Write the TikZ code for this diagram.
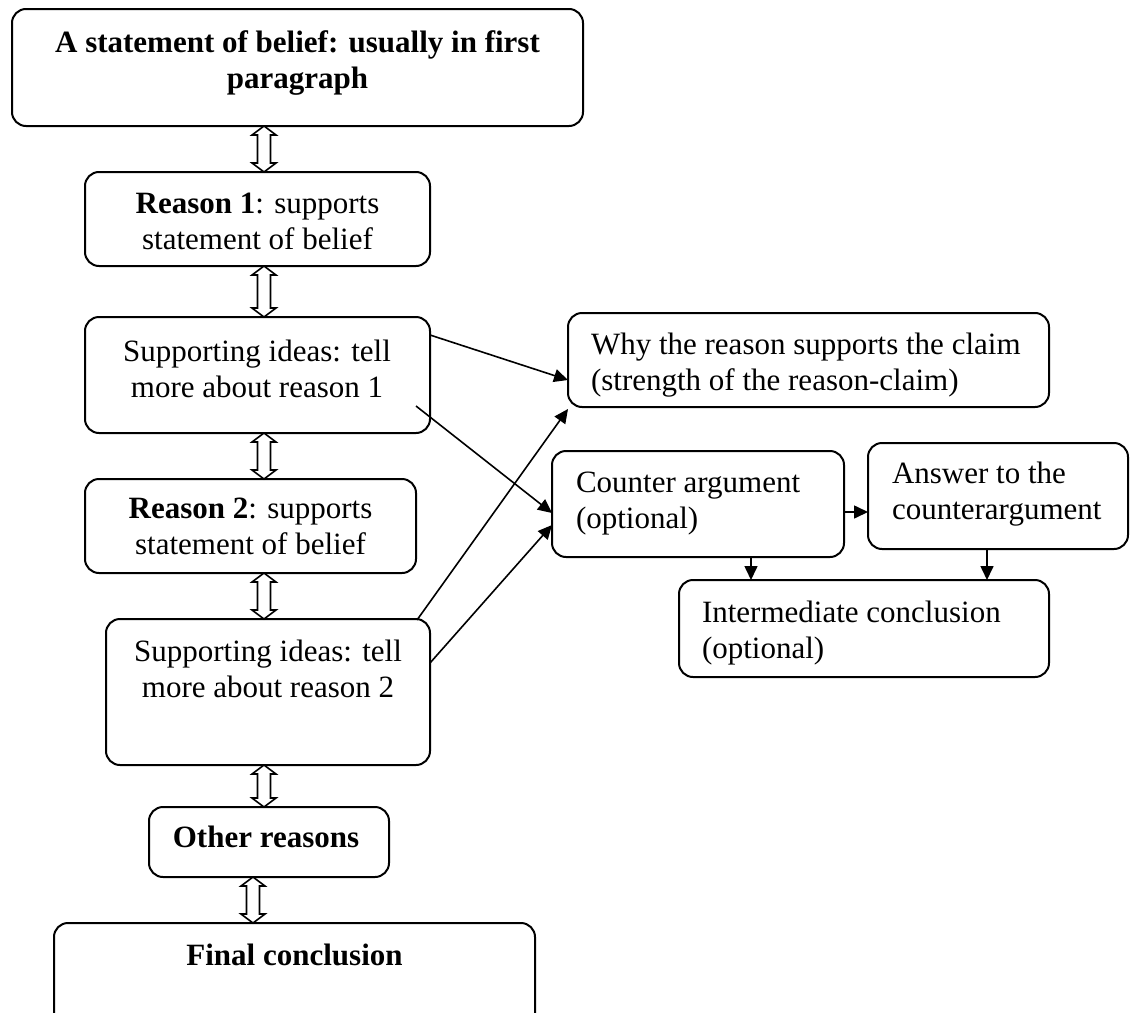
\documentclass[tikz,border=0pt]{standalone}
\usepackage{fontspec}
\setmainfont{Liberation Serif}
\usetikzlibrary{calc,arrows.meta}
\tikzset{
  box/.style={draw, line width=1pt, rounded corners=7pt, inner sep=0pt, outer sep=0pt},
  txt/.style={inner sep=0pt, outer sep=0pt, font=\fontsize{15.5}{18}\selectfont},
  link/.style={line width=0.8pt, -{Triangle[length=7pt,width=6.5pt]}},
  hollow/.style={draw, line width=0.8pt, fill=white, line join=miter}
}
\newcommand\dblarr[3]{%
  \draw[hollow] let \p1=(#2.south), \p2=(#3.north), \p3=(#1,0) in
    (\x3,\y1) -- (\x3+6pt,\y1-4.5pt) -- (\x3+3.25pt,\y1-4.5pt) -- (\x3+3.25pt,\y2+4.5pt)
    -- (\x3+6pt,\y2+4.5pt) -- (\x3,\y2) -- (\x3-6pt,\y2+4.5pt) -- (\x3-3.25pt,\y2+4.5pt)
    -- (\x3-3.25pt,\y1-4.5pt) -- (\x3-6pt,\y1-4.5pt) -- cycle;}
\begin{document}
\begin{tikzpicture}[x=0.5pt, y=-0.5pt]
\useasboundingbox (0,0) rectangle (1135,1012);
\clip (0,0) rectangle (1135,1012);
% boxes
\node[box, minimum width=285.5pt, minimum height=58.5pt] (top) at (297.5,67.5) {};
\node[box, minimum width=172.5pt, minimum height=47pt] (r1) at (257.5,219) {};
\node[box, minimum width=172.5pt, minimum height=58pt] (s1) at (257.5,375) {};
\node[box, minimum width=165.5pt, minimum height=47pt] (r2) at (250.5,526) {};
\node[box, minimum width=162pt, minimum height=73pt] (s2) at (268,692) {};
\node[box, minimum width=120pt, minimum height=35pt] (oth) at (269,842) {};
\node[box, minimum width=240.5pt, minimum height=58.5pt] (fin) at (294.5,981.5) {};
\node[box, minimum width=240.5pt, minimum height=47pt] (why) at (808.5,360) {};
\node[box, minimum width=146pt, minimum height=53pt] (ctr) at (698,504) {};
\node[box, minimum width=130pt, minimum height=53pt] (ans) at (998,496) {};
\node[box, minimum width=185pt, minimum height=48.5pt] (int) at (864,628.5) {};
% texts (base anchor = baseline of the last line)
\node[txt, anchor=base, align=center, font=\fontsize{15.5}{18}\selectfont\bfseries] (toptxt) at (297.5,88) {A statement of belief: usually in first\\paragraph};
\node[txt, anchor=base, align=center] (r1txt) at (257.5,249) {\textbf{Reason 1}: supports\\statement of belief};
\node[txt, anchor=base, align=center] (s1txt) at (257,397) {Supporting ideas: tell\\more about reason 1};
\node[txt, anchor=base, align=center] (r2txt) at (250.5,554) {\textbf{Reason 2}: supports\\statement of belief};
\node[txt, anchor=base, align=center] (s2txt) at (268,697) {Supporting ideas: tell\\more about reason 2};
\node[txt, anchor=base, font=\fontsize{15.5}{18}\selectfont\bfseries] (othtxt) at (266,847) {Other reasons};
\node[txt, anchor=base, font=\fontsize{15.5}{18}\selectfont\bfseries] (fintxt) at (294.5,965) {Final conclusion};
\node[txt, anchor=base west, align=left] (whytxt) at (591,390) {Why the reason supports the claim\\(strength of the reason-claim)};
\node[txt, anchor=base west, align=left] (ctrtxt) at (576,528) {Counter argument\\(optional)};
\node[txt, anchor=base west, align=left] (anstxt) at (892,519) {Answer to the\\counterargument};
\node[txt, anchor=base west, align=left] (inttxt) at (702,658) {Intermediate conclusion\\(optional)};
% hollow double arrows
\dblarr{264}{top}{r1}
\dblarr{264}{r1}{s1}
\dblarr{264}{s1}{r2}
\dblarr{264}{r2}{s2}
\dblarr{264}{s2}{oth}
\dblarr{253}{oth}{fin}
% thin arrows
\draw[link] ($(s1.east)+(0,-40)$) -- ($(why.west)+(0,20)$);
\draw[link] ($(s1.east)+(-14,31)$) -- ($(ctr.west)+(0,9)$);
\draw[link] ($(s2.north east)+(-13,1)$) -- ($(why.south west)+(0,2)$);
\draw[link] ($(s2.east)+(0,-29)$) -- ($(ctr.west)+(0,21)$);
\draw[link] ($(ctr.east)+(0,8)$) -- ($(ans.west)+(0,16)$);
\draw[link] ($(ctr.south)+(53,0)$) -- ($(int.north)+(-113,0)$);
\draw[link] ($(ans.south)+(-11,0)$) -- ($(int.north)+(123,0)$);
\end{tikzpicture}
\end{document}
